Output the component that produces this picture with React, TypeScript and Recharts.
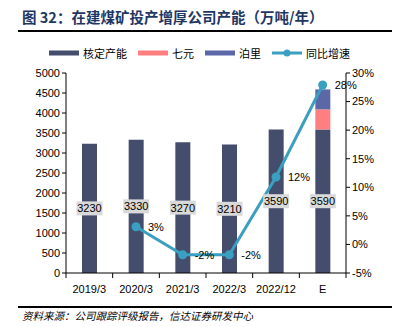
import React from "react";
import {
  ComposedChart,
  Bar,
  Line,
  XAxis,
  YAxis,
  LabelList,
} from "recharts";

const categories = ["2019/3", "2020/3", "2021/3", "2022/3", "2022/12", "E"];
const baseCapacity = [3230, 3330, 3270, 3210, 3590, 3590];
const qiyuan = [null, null, null, null, null, 500];
const boli = [null, null, null, null, null, 500];
const growth = [null, 3.1, -1.8, -1.8, 11.8, 27.9];
const growthLabels = ["", "3%", "-2%", "-2%", "12%", "28%"];
const leftTicks = [0, 500, 1000, 1500, 2000, 2500, 3000, 3500, 4000, 4500, 5000];
const rightTicks = [-5, 0, 5, 10, 15, 20, 25, 30];

const seriesNames = ["核定产能", "七元", "泊里", "同比增速"];
const COLORS = {
  base: "#454d6c",
  pink: "#ff7f80",
  blue: "#5b67a7",
  line: "#3a9fc0",
};

const data = categories.map((c, i) => ({
  name: c,
  base: baseCapacity[i],
  qiyuan: qiyuan[i],
  boli: boli[i],
  growth: growth[i],
}));

const FONT = "'Liberation Sans', Arial, sans-serif";
const CJK = "'Noto Sans CJK SC', 'Noto Sans', sans-serif";
const HALF_BAND = 280 / categories.length / 2;

const XTick = (props: any) => {
  const { x, y, payload, index } = props;
  const isLast = index === categories.length - 1;
  return (
    <g>
      <line x1={x - HALF_BAND} x2={x - HALF_BAND} y1={y - 8} y2={y - 3} stroke="#000" />
      {isLast && (
        <line x1={x + HALF_BAND} x2={x + HALF_BAND} y1={y - 8} y2={y - 3} stroke="#000" />
      )}
      <text x={x} y={y + 12} textAnchor="middle" fontSize={11} fontFamily={FONT} fill="#000">
        {payload.value}
      </text>
    </g>
  );
};

const BarValueLabel = (props: any) => {
  const { x, y, width, height, value } = props;
  const cx = x + width / 2;
  const cy = y + height / 2;
  return (
    <g>
      <rect x={cx - 13} y={cy - 7} width={26} height={14} fill="#d9d9d9" />
      <text x={cx} y={cy + 4} textAnchor="middle" fontSize={11} fontFamily={FONT} fill="#000">
        {value}
      </text>
    </g>
  );
};

const LineValueLabel = (props: any) => {
  const { x, y, index } = props;
  const t = growthLabels[index];
  if (!t) return null;
  return (
    <text x={x + 12} y={y + 4} textAnchor="start" fontSize={11} fontFamily={FONT} fill="#000">
      {t}
    </text>
  );
};

const LegendContent = () => {
  const items = [
    { name: seriesNames[0], color: COLORS.base, type: "bar" },
    { name: seriesNames[1], color: COLORS.pink, type: "bar" },
    { name: seriesNames[2], color: COLORS.blue, type: "bar" },
    { name: seriesNames[3], color: COLORS.line, type: "line" },
  ];
  return (
    <div style={{ display: "flex", justifyContent: "center", alignItems: "center", gap: 11 }}>
      {items.map((it) => (
        <div key={it.name} style={{ display: "flex", alignItems: "center" }}>
          <svg width={30} height={10} style={{ marginRight: 4 }}>
            {it.type === "bar" ? (
              <rect x={0} y={2.5} width={30} height={5} fill={it.color} />
            ) : (
              <g>
                <line x1={0} x2={30} y1={5} y2={5} stroke={it.color} strokeWidth={3} />
                <circle cx={15} cy={5} r={3.5} fill={it.color} />
              </g>
            )}
          </svg>
          <span style={{ fontSize: 11, fontFamily: CJK, color: "#000" }}>{it.name}</span>
        </div>
      ))}
    </div>
  );
};

export default function App() {
  return (
    <div style={{ position: "absolute", left: 0, top: 0, width: 399, height: 327, background: "#fff" }}>
      <div
        style={{
          position: "absolute",
          left: 22,
          top: 7,
          fontSize: 14.5,
          fontWeight: "bold",
          fontFamily: CJK,
          color: "#1f3763",
          whiteSpace: "nowrap",
          lineHeight: "20px",
        }}
      >
        图 32：在建煤矿投产增厚公司产能（万吨/年）
      </div>
      <div style={{ position: "absolute", left: 18, top: 30, width: 374, height: 2, background: "#000" }} />
      <div style={{ position: "absolute", left: 0, top: 45, width: 399 }}>
        <LegendContent />
      </div>
      <ComposedChart
        width={399}
        height={327}
        data={data}
        margin={{ top: 73, right: 13, bottom: 24, left: 16 }}
        barCategoryGap={0}
      >
        <XAxis
          dataKey="name"
          xAxisId="x"
          tickLine={false}
          axisLine={{ stroke: "#000" }}
          tick={<XTick />}
          height={30}
          interval={0}
        />
        <YAxis
          yAxisId="left"
          orientation="left"
          width={50}
          domain={[0, 5000]}
          ticks={leftTicks}
          interval={0}
          axisLine={{ stroke: "#000" }}
          tickLine={{ stroke: "#000" }}
          tickSize={4}
          tick={{ fontSize: 11, fontFamily: FONT, fill: "#000" }}
        />
        <YAxis
          yAxisId="right"
          orientation="right"
          width={40}
          domain={[-5, 30]}
          ticks={rightTicks}
          interval={0}
          axisLine={{ stroke: "#000" }}
          tickLine={{ stroke: "#000" }}
          tickSize={4}
          tickFormatter={(v: number) => `${v}%`}
          tick={{ fontSize: 11, fontFamily: FONT, fill: "#000" }}
        />
        <Bar
          xAxisId="x"
          yAxisId="left"
          dataKey="base"
          name={seriesNames[0]}
          stackId="s"
          fill={COLORS.base}
          barSize={15}
          isAnimationActive={false}
        >
          <LabelList dataKey="base" content={<BarValueLabel />} />
        </Bar>
        <Bar
          xAxisId="x"
          yAxisId="left"
          dataKey="qiyuan"
          name={seriesNames[1]}
          stackId="s"
          fill={COLORS.pink}
          barSize={15}
          isAnimationActive={false}
        />
        <Bar
          xAxisId="x"
          yAxisId="left"
          dataKey="boli"
          name={seriesNames[2]}
          stackId="s"
          fill={COLORS.blue}
          barSize={15}
          isAnimationActive={false}
        />
        <Line
          xAxisId="x"
          yAxisId="right"
          dataKey="growth"
          name={seriesNames[3]}
          stroke={COLORS.line}
          strokeWidth={3}
          dot={{ r: 4.5, fill: COLORS.line, stroke: COLORS.line, strokeWidth: 0 }}
          activeDot={false}
          connectNulls={false}
          isAnimationActive={false}
        >
          <LabelList dataKey="growth" content={<LineValueLabel />} />
        </Line>
      </ComposedChart>
      <div style={{ position: "absolute", left: 18, top: 306, width: 374, height: 2, background: "#000" }} />
      <div
        style={{
          position: "absolute",
          left: 22,
          top: 308,
          fontSize: 10.5,
          fontStyle: "italic",
          fontFamily: CJK,
          color: "#000",
          whiteSpace: "nowrap",
          lineHeight: "16px",
        }}
      >
        资料来源：公司跟踪评级报告，信达证券研发中心
      </div>
    </div>
  );
}
